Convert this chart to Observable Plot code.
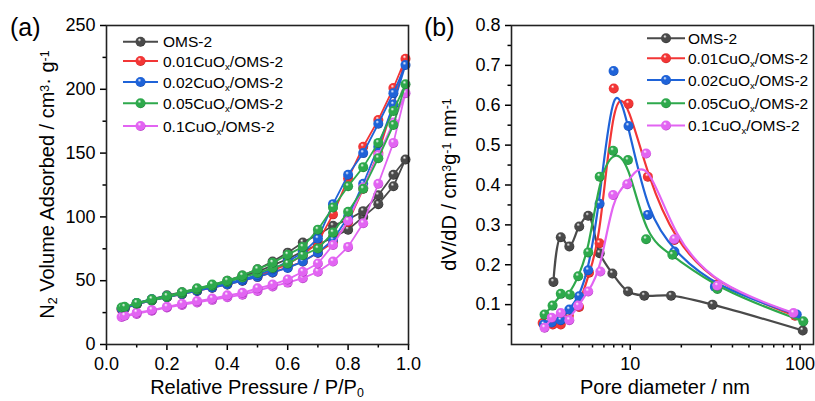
<!DOCTYPE html>
<html><head><meta charset="utf-8">
<script src="https://cdn.jsdelivr.net/npm/d3@7"></script>
<script src="https://cdn.jsdelivr.net/npm/@observablehq/plot@0.6"></script>
<style>
body{margin:0;background:#fff;}
#wrap{display:flex;width:815px;height:401px;overflow:hidden;background:#fff;}
#wrap svg{display:block;flex:none;}
</style></head><body>
<svg width="0" height="0" style="position:absolute"><defs id="defs"></defs></svg>
<div id="wrap"></div>
<script>
// ---------- series ----------
const seriesNames = ["OMS-2", "0.01CuOx/OMS-2", "0.02CuOx/OMS-2", "0.05CuOx/OMS-2", "0.1CuOx/OMS-2"];
const seriesColors = ["#4a4a4a", "#f23636", "#1f63d8", "#2ea94c", "#e264f2"];
const ballDark = ["#222222", "#b81616", "#0f3f9c", "#16762f", "#a832b8"];

// ---------- panel (a): N2 isotherms ----------
const pAds = [0.05,0.10,0.15,0.20,0.25,0.30,0.35,0.40,0.45,0.50,0.55,0.60,0.65,0.70,0.75,0.80,0.85,0.90,0.95,0.99];
const pDes = [0.95,0.90,0.85,0.80,0.75,0.70,0.65,0.60,0.55,0.50,0.45,0.40,0.35,0.30,0.25,0.20,0.15,0.10,0.06];

const omsAds   = [28,32,35,38,40.5,43,46,49,53,57,62,67,73,78,84,90,100,110,124,145];
const omsDes   = [133,117,104.5,98,93,86,80,72,65,59,54,50,46.5,43.5,41,38.5,35.5,32.5,28.5];
const cu01Ads  = [27.5,31.5,34.5,37,39.5,42,44.5,47,50,53,56.5,60.5,65,72,80,96,122,150,188,224];
const cu01Des  = [201,176,155,130,102,80,70,63,58,54,50.5,47.5,45,42.5,40,37.5,35,32,28];
const cu02Ads  = [28,31.5,34.5,37,39.5,42,44.5,47,50,53,56.5,60,65,72,82,100,126,155,188,219];
const cu02Des  = [197,173,150,133,110,83,72,65,59,54.5,51,48,45.5,43,40.5,38,35.5,32.5,28.5];
const cu05Ads  = [29,32,34.6,37.2,40,43,46,49,52.5,56,60,63.4,70,75.2,87.7,104,122,146,172,204];
const cu05Des  = [183,158,139,124,107.4,90,76.5,70.4,64,59,54,50,47,44,41,38,35.5,32.5,29.5];
const cu1Ads   = [21.5,24,26.5,29,31,33,35,37,39,42,45.5,48.5,52,57,65,76.5,95,126,158,197];
const cu1Des   = [174,148.5,123,97,78,63.5,57,51,47,44,40.5,38.5,36,34,32,29.5,27,25,22.5];

const adsVals = [omsAds, cu01Ads, cu02Ads, cu05Ads, cu1Ads];
const desVals = [omsDes, cu01Des, cu02Des, cu05Des, cu1Des];

const xTicksA = [0, 0.2, 0.4, 0.6, 0.8, 1.0];
const xMinorA = [0.1, 0.3, 0.5, 0.7, 0.9];
const yTicksA = [0, 50, 100, 150, 200, 250];
const yMinorA = [25, 75, 125, 175, 225];

// ---------- panel (b): pore size distribution ----------
const omsD  = [3.53,3.90,4.38,5.01,5.66,6.61,7.85,9.7,12.1,17.4,30.5,103.7];
const omsV  = [0.157,0.269,0.246,0.296,0.323,0.229,0.178,0.133,0.1225,0.1225,0.100,0.035];
const cu01D = [3.05,3.5,3.9,4.35,5.0,5.72,6.6,8.0,9.77,12.7,18.2,31.8,93.4];
const cu01V = [0.054,0.050,0.050,0.072,0.094,0.180,0.254,0.642,0.604,0.421,0.262,0.150,0.072];
const cu02D = [3.1,3.45,3.9,4.38,5.0,5.66,6.6,7.98,9.77,12.7,18.2,31.5,95.6];
const cu02V = [0.050,0.055,0.061,0.0875,0.121,0.186,0.353,0.686,0.548,0.325,0.233,0.145,0.075];
const cu05D = [3.13,3.49,3.9,4.41,4.94,5.66,6.61,7.93,9.7,12.4,17.7,32.6,104.5];
const cu05V = [0.075,0.0975,0.127,0.125,0.171,0.231,0.421,0.486,0.4625,0.264,0.225,0.139,0.058];
const cu1D  = [3.13,3.45,3.9,4.38,4.94,5.66,6.67,7.93,9.6,12.4,18.2,32.6,91.5];
const cu1V  = [0.042,0.067,0.079,0.061,0.0975,0.133,0.183,0.375,0.402,0.479,0.264,0.1475,0.079];

const dVals = [omsD, cu01D, cu02D, cu05D, cu1D];
const vVals = [omsV, cu01V, cu02V, cu05V, cu1V];

const xTicksB = [10, 100];
const xMinorB = [3,4,5,6,7,8,9,20,30,40,50,60,70,80,90];
const yTicksB = [0.1,0.2,0.3,0.4,0.5,0.6,0.7,0.8];
const yMinorB = [0.05,0.15,0.25,0.35,0.45,0.55,0.65,0.75];

// ---------- text ----------
const panelLabels = ["(a)", "(b)"];
const xTitleA = [["Relative Pressure / P/P", null], ["0", "sub"]];
const yTitleA = [["N", null], ["2", "sub"], [" Volume Adsorbed / cm", null], ["3", "sup"], ["· g", null], ["-1", "sup"]];
const xTitleB = [["Pore diameter / nm", null]];
const yTitleB = [["dV/dD / cm", null], ["3", "sup"], ["g", null], ["-1", "sup"], [" nm", null], ["-1", "sup"]];

// ---------- gradients for shaded balls ----------
const defs = d3.select("#defs");
seriesColors.forEach((c, i) => {
  const g = defs.append("radialGradient").attr("id", "ball" + i)
    .attr("cx", "45%").attr("cy", "40%").attr("r", "60%").attr("fx", "38%").attr("fy", "30%");
  g.append("stop").attr("offset", "0%").attr("stop-color", "#ffffff");
  g.append("stop").attr("offset", "30%").attr("stop-color", c);
  g.append("stop").attr("offset", "85%").attr("stop-color", c);
  g.append("stop").attr("offset", "100%").attr("stop-color", ballDark[i]);
});

const font = "'Liberation Sans', Arial, Helvetica, sans-serif";

function richText(sel, x, y, parts, size, rotate) {
  const t = sel.append("text")
    .attr("font-family", font).attr("font-size", size).attr("fill", "#000")
    .attr("text-anchor", "middle");
  if (rotate) t.attr("transform", `translate(${x},${y}) rotate(-90)`).attr("dy", "0.36em");
  else t.attr("x", x).attr("y", y);
  parts.forEach(([s, kind]) => {
    const ts = t.append("tspan").text(s);
    if (kind === "sub") ts.attr("baseline-shift", "-22%").attr("font-size", "62%");
    if (kind === "sup") ts.attr("baseline-shift", "45%").attr("font-size", "62%");
  });
  return t;
}

function legend(sel, order, rowsY, x1, x2, xt, size) {
  order.forEach((i, k) => {
    const y = rowsY[k];
    sel.append("line").attr("x1", x1).attr("x2", x2).attr("y1", y).attr("y2", y)
      .attr("stroke", seriesColors[i]).attr("stroke-width", 2);
    sel.append("circle").attr("cx", (x1 + x2) / 2).attr("cy", y).attr("r", 5)
      .attr("fill", `url(#ball${i})`);
    const t = sel.append("text").attr("x", xt).attr("y", y + 5.5)
      .attr("text-anchor", "start")
      .attr("font-family", font).attr("font-size", size).attr("fill", "#000");
    const name = seriesNames[i];
    if (name.includes("CuOx")) {
      const [pre, post] = name.split("CuOx");
      t.append("tspan").text(pre + "CuO");
      t.append("tspan").text("x").attr("baseline-shift", "-25%").attr("font-size", "62%");
      t.append("tspan").text(post);
    } else t.text(name);
  });
}

// ---------- build panel (a) ----------
const isoData = seriesNames.map((s, i) =>
  pAds.map((p, j) => ({p, v: adsVals[i][j]})).concat(pDes.map((p, j) => ({p, v: desVals[i][j]}))));
const orderA = [0, 1, 2, 4, 3];

const axisStyle = {stroke: "#000", strokeWidth: 1.5};
const plotA = Plot.plot({
  width: 410, height: 401,
  marginLeft: 106, marginRight: 2, marginTop: 25, marginBottom: 57,
  style: {fontFamily: font, background: "transparent", color: "#000", overflow: "visible", position: "relative", zIndex: 2},
  x: {domain: [0, 1], label: null},
  y: {domain: [0, 250], label: null},
  marks: [
    Plot.axisX(xTicksA, {tickSize: 6, tickPadding: 7, tickFormat: d3.format(".1f"), fontSize: 18, label: null, ...axisStyle}),
    Plot.axisX(xMinorA, {tickSize: 3.5, tickFormat: () => "", label: null, ...axisStyle}),
    Plot.axisY(yTicksA, {tickSize: 6, tickPadding: 5, tickFormat: d => String(d), fontSize: 18, label: null, ...axisStyle}),
    Plot.axisY(yMinorA, {tickSize: 3.5, tickFormat: () => "", label: null, ...axisStyle}),
    ...orderA.flatMap(i => [
      Plot.line(isoData[i], {x: "p", y: "v", stroke: seriesColors[i], strokeWidth: 1.8}),
      Plot.dot(isoData[i], {x: "p", y: "v", r: 5, fill: `url(#ball${i})`, stroke: "none"})
    ]),
    Plot.frame({stroke: "#222", strokeWidth: 1.6})
  ]
});

// ---------- build panel (b) ----------
const psdData = seriesNames.map((s, i) => dVals[i].map((d, j) => ({d, v: vVals[i][j]})));
const orderB = [0, 1, 2, 3, 4];
const plotB = Plot.plot({
  width: 405, height: 401,
  marginLeft: 101, marginRight: 2, marginTop: 25, marginBottom: 57,
  style: {fontFamily: font, background: "transparent", color: "#000", overflow: "visible"},
  x: {type: "log", domain: [2, 120], label: null},
  y: {domain: [0, 0.8], label: null},
  marks: [
    Plot.axisX(xTicksB, {tickSize: 6, tickPadding: 7, tickFormat: d => String(d), fontSize: 18, label: null, ...axisStyle}),
    Plot.axisX(xMinorB, {tickSize: 3.5, tickFormat: () => "", label: null, ...axisStyle}),
    Plot.axisY(yTicksB, {tickSize: 6, tickPadding: 5, tickFormat: d3.format(".1f"), fontSize: 18, label: null, ...axisStyle}),
    Plot.axisY(yMinorB, {tickSize: 3.5, tickFormat: () => "", label: null, ...axisStyle}),
    ...orderB.flatMap(i => [
      Plot.line(psdData[i], {x: "d", y: "v", stroke: seriesColors[i], strokeWidth: 2.2,
        curve: i === 0 ? "catmull-rom" : "basis"}),
      Plot.dot(psdData[i], {x: "d", y: "v", r: 5, fill: `url(#ball${i})`, stroke: "none"})
    ]),
    Plot.frame({stroke: "#222", strokeWidth: 1.6})
  ]
});

// ---------- annotations ----------
const sA = d3.select(plotA);
const sB = d3.select(plotB);
// drop the empty labels of the minor-tick axes
[sA, sB].forEach(s => s.selectAll("text").filter(function () { return this.textContent.trim() === ""; }).remove());

sA.append("text").attr("x", 10).attr("y", 36).attr("text-anchor", "start")
  .attr("font-family", font).attr("font-size", 25).text(panelLabels[0]);
richText(sA, 257, 394, xTitleA, 20, false);
richText(sA, 47, 184.5, yTitleA, 20, true);
legend(sA, [0, 1, 2, 3, 4], [41.7, 61, 82, 103.3, 126], 123, 158, 163, 15.5);

sB.append("text").attr("x", 14).attr("y", 36).attr("text-anchor", "start")
  .attr("font-family", font).attr("font-size", 25).text(panelLabels[1]);
richText(sB, 255, 394, xTitleB, 20, false);
richText(sB, 39, 184.5, yTitleB, 20, true);
legend(sB, [0, 1, 2, 3, 4], [38.3, 58.3, 80, 103.3, 125.5], 237, 275, 278, 15.5);

document.getElementById("wrap").append(plotA, plotB);
</script>
</body></html>
